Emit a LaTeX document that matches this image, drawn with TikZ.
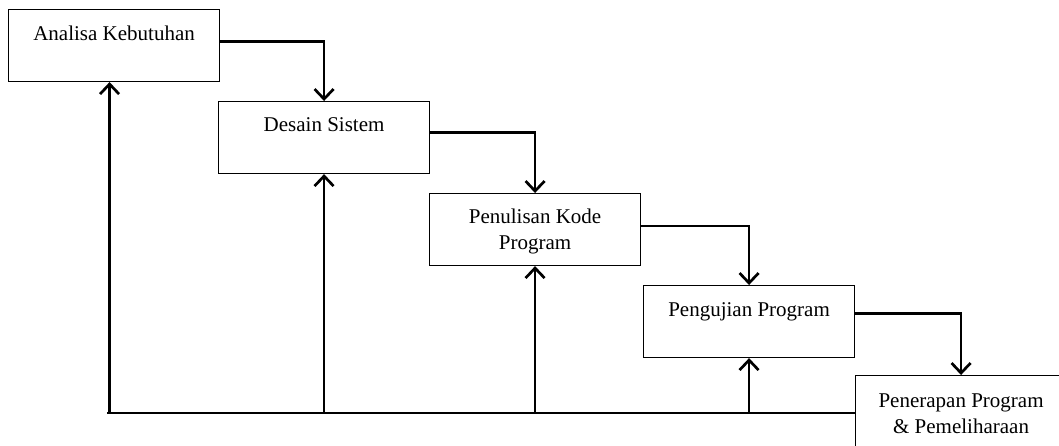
\documentclass[tikz,border=0pt]{standalone}
\usepackage{fontspec}
\setmainfont{Liberation Serif}
\usetikzlibrary{arrows.meta}
\begin{document}
\begin{tikzpicture}[x=1pt,y=-1pt,
  box/.style={draw, line width=1.1pt, minimum width=211pt, inner sep=0pt,
    anchor=north west, align=center, font=\fontsize{21}{26}\selectfont},
  flow/.style={line width=2.7pt, -{Straight Barb[length=10pt,width=19pt,line width=2.7pt]}},
  fbline/.style={line width=2.7pt}]
\useasboundingbox (0,0) rectangle (1059,445);
\clip (0,0) rectangle (1059,445);
\node[box, text height=31pt, text depth=41pt] (b1) at (8,9) {Analisa Kebutuhan};
\node[box, text height=30pt, text depth=42pt] (b2) at (218,101) {Desain Sistem};
\node[box, text height=56pt, text depth=16pt] (b3) at (429,193) {Penulisan Kode\\Program};
\node[box, text height=31pt, text depth=41pt] (b4) at (643,285) {Pengujian Program};
\node[box, text height=58pt, text depth=14pt] (b5) at (855,375) {Penerapan Program\\\& Pemeliharaan};
\coordinate (fb) at (107,413);
\draw[flow] ([yshift=4pt]b1.east) -| (b2.north);
\draw[flow] ([yshift=5pt]b2.east) -| (b3.north);
\draw[flow] ([yshift=3.5pt]b3.east) -| (b4.north);
\draw[flow] ([yshift=8pt]b4.east) -| (b5.north);
\draw[fbline] (b5.west |- fb) -- (fb);
\draw[flow] ([xshift=-4.5pt]b1.south |- fb) -- ([xshift=-4.5pt]b1.south);
\draw[flow] (b2.south |- fb) -- (b2.south);
\draw[flow] (b3.south |- fb) -- (b3.south);
\draw[flow] (b4.south |- fb) -- (b4.south);
\end{tikzpicture}
\end{document}
